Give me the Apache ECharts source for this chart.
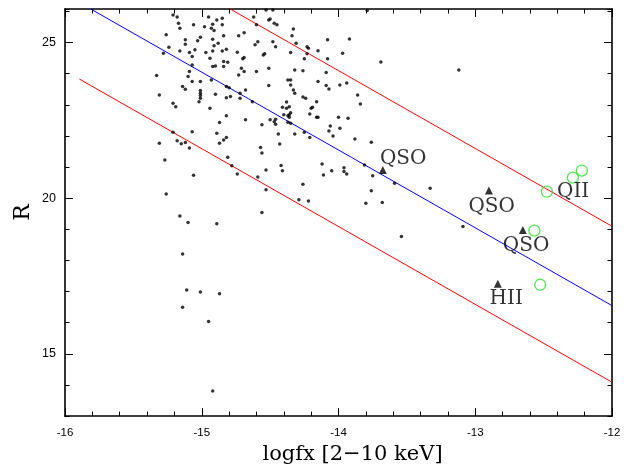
<!DOCTYPE html>
<html><head><meta charset="utf-8">
<script src="https://cdn.jsdelivr.net/npm/echarts@6/dist/echarts.min.js"></script>
<style>html,body{margin:0;padding:0;background:#fff}#c{width:635px;height:470px}</style>
</head><body><div id="c"></div>
<script>
// X-ray sources: [log fx, R]
const sources = [
[-15.21,25.89],[-15.18,25.82],[-15.17,25.62],[-15.16,25.46],[-15.06,25.57],[-14.95,25.82],[-14.89,25.73],[-14.85,25.78],[-14.92,25.59],[-14.98,25.51],[-14.93,25.46],[-14.91,25.39],[-14.85,25.57],[-14.73,25.22],[-14.69,25.32],[-14.62,25.82],[-14.60,25.57],[-15.26,25.25],[-15.12,25.09],[-15.12,24.95],[-15.01,25.17],[-15.03,25.06],[-15.05,24.77],[-14.92,25.11],[-14.91,24.90],[-14.88,24.98],[-14.92,24.73],[-14.85,24.73],[-14.82,24.79],[-14.74,24.69],[-14.70,24.48],[-14.69,24.52],[-14.71,24.18],[-14.60,24.07],[-14.59,25.03],[-15.24,24.85],[-15.28,24.66],[-15.16,24.73],[-15.09,24.68],[-15.07,24.55],[-15.07,24.28],[-14.97,24.68],[-14.94,24.50],[-14.92,24.23],[-14.90,24.25],[-14.84,24.39],[-14.84,24.23],[-14.81,24.37],[-14.73,23.96],[-14.69,24.07],[-15.09,24.07],[-15.10,23.91],[-15.07,23.75],[-15.14,23.59],[-15.12,23.50],[-15.01,23.75],[-15.01,23.46],[-15.01,23.37],[-15.01,23.30],[-15.01,23.21],[-15.02,23.10],[-14.93,23.80],[-14.82,23.59],[-14.80,23.55],[-14.90,23.34],[-14.82,23.23],[-14.79,23.27],[-14.72,23.37],[-14.72,23.21],[-14.68,23.48],[-14.63,23.10],[-15.21,23.05],[-15.31,23.32],[-15.33,23.94],[-15.19,22.94],[-14.94,22.89],[-14.84,25.22],
[-14.51,25.73],[-14.50,25.76],[-14.47,25.62],[-14.45,25.57],[-14.53,26.05],[-14.48,26.05],[-14.33,25.44],[-14.34,25.22],[-14.31,24.98],[-14.61,24.93],[-14.48,25.03],[-14.46,24.87],[-14.55,24.60],[-14.54,24.64],[-14.35,24.68],[-14.23,24.87],[-14.22,24.82],[-14.15,24.74],[-14.25,24.48],[-14.23,24.64],[-14.08,25.09],[-13.92,25.12],[-13.97,24.66],[-14.08,24.48],[-14.51,24.18],[-14.32,24.12],[-14.26,24.10],[-14.09,24.04],[-14.37,23.80],[-14.35,23.80],[-14.35,23.64],[-14.51,23.62],[-14.33,23.48],[-14.32,23.37],[-14.15,23.75],[-14.09,23.62],[-14.07,23.51],[-13.99,23.64],[-13.94,23.70],[-14.26,23.25],[-14.24,23.21],[-14.16,23.10],[-14.38,23.09],[-13.86,23.32],[-13.84,23.03],[-13.79,26.03],
[-13.69,24.38],[-13.12,24.12],[-13.76,21.80],[-13.81,21.07],[-13.75,20.72],[-13.76,20.24],[-13.80,19.84],[-13.68,19.86],[-13.59,20.48],[-13.33,20.32],[-13.09,19.09],[-13.54,18.77],
[-14.41,22.92],[-14.38,22.89],[-14.36,22.94],[-14.35,22.75],[-14.20,22.89],[-14.19,22.92],[-14.21,22.71],[-14.40,22.68],[-14.37,22.65],[-14.36,22.68],[-14.36,22.60],[-14.16,22.60],[-14.15,22.60],[-14.50,22.52],[-14.47,22.46],[-14.46,22.54],[-14.46,22.38],[-14.37,22.44],[-14.35,22.41],[-14.56,22.36],[-14.00,22.60],[-13.93,22.57],[-14.06,22.32],[-14.07,22.16],[-13.99,22.25],[-14.04,22.00],[-14.32,22.06],[-14.25,22.12],[-14.21,21.95],[-14.44,22.06],[-14.43,21.74],[-13.88,21.90],[-14.57,21.63],[-14.56,21.45],[-14.12,21.10],[-14.11,20.75],[-14.05,20.88],[-13.96,20.98],[-13.96,20.86],[-13.94,20.78],[-14.42,21.05],[-14.41,20.88],[-14.53,20.91],[-14.59,20.68],[-14.53,20.27],[-14.26,20.45],[-14.29,19.95],[-14.22,19.91],[-14.56,19.54],
[-14.82,22.65],[-14.87,22.43],[-14.68,22.52],[-15.21,22.12],[-15.07,22.14],[-15.31,21.77],[-15.18,21.85],[-15.15,21.75],[-15.12,21.79],[-15.09,21.61],[-14.89,22.09],[-14.84,21.87],[-14.82,21.95],[-14.87,21.77],[-15.27,21.23],[-14.81,21.32],[-14.78,21.04],[-14.74,20.78],[-15.06,20.74],[-15.26,20.14],
[-15.16,19.43],[-15.10,19.22],[-14.89,19.18],[-15.14,18.21],[-15.11,17.05],[-15.01,16.99],[-14.87,16.93],[-15.14,16.50],[-14.95,16.04],[-14.92,13.81]
];
// identified objects (triangles)
const identified = [[-13.676,20.91],[-12.90,20.25],[-12.652,18.98],[-12.835,17.25]];
// green circles
const circled = [[-12.476,20.21],[-12.286,20.66],[-12.220,20.89],[-12.567,18.96],[-12.525,17.22]];
// relation lines (endpoints)
const blueLine = [[-15.812,26.08],[-12,16.55]];
const redUpper = [[-14.792,26.08],[-12,19.1]];
const redLower = [[-15.895,23.83],[-12,14.09]];
// text annotations in data coordinates
const labelText = ['QSO','QSO','QSO','HII','QII'];
const labelX = [-13.527,-12.88,-12.628,-12.774,-12.284];
const labelY = [21.28,19.73,18.47,16.77,20.22];
// axis ticks
const xMin=-16, xMax=-12, yMin=13, yMax=26.08;
const yMajor=[15,20,25];

const chart = echarts.init(document.getElementById('c'), null, {renderer:'canvas'});
const black='#000';
const sansLabel={color:black,fontFamily:'Liberation Sans, Arial, sans-serif'};
function xAx(pos, labels){
  return {type:'value',position:pos,min:xMin,max:xMax,interval:1,
    axisLine:{show:true,onZero:false,lineStyle:{color:black,width:1.6}},
    axisTick:{show:true,inside:true,length:8,lineStyle:{color:black,width:1}},
    minorTick:{show:true,splitNumber:5,length:4.5,lineStyle:{color:black,width:1}},
    splitLine:{show:false},
    axisLabel:Object.assign({show:labels,fontSize:11.5,margin:11},sansLabel)};
}
function yAxMinor(pos){
  return {type:'value',position:pos,min:yMin,max:yMax,interval:1,
    axisLine:{show:true,onZero:false,lineStyle:{color:black,width:1.6}},
    axisTick:{show:true,inside:true,length:4.5,lineStyle:{color:black,width:1}},
    splitLine:{show:false},axisLabel:{show:false}};
}
function yAxMajor(pos, labels){
  return {type:'value',position:pos,min:yMin,max:yMax,interval:1,
    axisLine:{show:false,onZero:false},
    axisTick:{show:true,inside:true,length:8,customValues:yMajor,lineStyle:{color:black,width:1}},
    splitLine:{show:false},
    axisLabel:Object.assign({show:labels,customValues:yMajor,fontSize:12.5,margin:9},sansLabel)};
}
const xa0 = xAx('bottom', true);
xa0.name='logfx [2\u221210 keV]';
xa0.nameLocation='middle';
xa0.nameGap=17;
xa0.nameTextStyle={fontFamily:'DejaVu Serif',fontSize:21,color:black,padding:[0,0,0,28]};
const ya0 = yAxMinor('left');
ya0.name='R'; ya0.nameLocation='middle'; ya0.nameRotate=90; ya0.nameGap=31;
ya0.nameTextStyle={fontFamily:'DejaVu Serif',fontSize:22,color:black};

const labelData = labelText.map((t,i)=>({name:t,value:[labelX[i],labelY[i]]}));

chart.setOption({
  animation:false,
  backgroundColor:'#fff',
  grid:{left:65,right:23,top:9,bottom:53,containLabel:false},
  xAxis:[xa0, xAx('top', false)],
  yAxis:[ya0, yAxMajor('left', true), yAxMinor('right'), yAxMajor('right', false)],
  series:[
    {type:'line',data:blueLine,showSymbol:false,symbol:'none',lineStyle:{color:'#0000ff',width:1},z:1},
    {type:'line',data:redUpper,showSymbol:false,symbol:'none',lineStyle:{color:'#ff0000',width:1},z:1},
    {type:'line',data:redLower,showSymbol:false,symbol:'none',lineStyle:{color:'#ff0000',width:1},z:1},
    {type:'scatter',data:sources,symbol:'circle',symbolSize:3.5,itemStyle:{color:black},z:3},
    {type:'scatter',data:identified,symbol:'triangle',symbolSize:8,itemStyle:{color:black},z:3},
    {type:'scatter',data:circled,symbol:'circle',symbolSize:11,itemStyle:{color:'rgba(0,0,0,0)',borderColor:'#22e622',borderWidth:1.3},z:4},
    {type:'scatter',data:labelData,symbolSize:0,itemStyle:{color:'rgba(0,0,0,0)'},
      label:{show:true,position:'inside',formatter:'{b}',fontFamily:'DejaVu Serif',fontSize:20,color:black},z:5}
  ]
});
</script></body></html>
